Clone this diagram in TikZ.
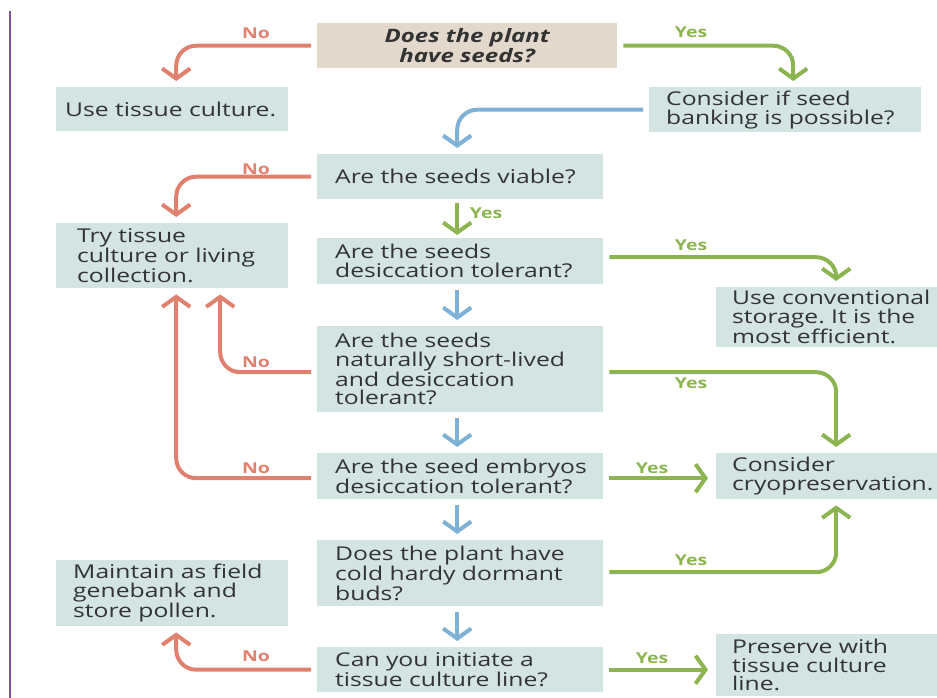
\documentclass[tikz,border=0pt]{standalone}
\usepackage{fontspec}
\setmainfont{Open Sans}[FakeStretch=1.3]
\usetikzlibrary{arrows.meta}
\definecolor{cred}{HTML}{E0806E}
\definecolor{cgreen}{HTML}{8CB551}
\definecolor{cblue}{HTML}{7DB1D6}
\definecolor{boxfill}{HTML}{D3E4E3}
\definecolor{beige}{HTML}{E2D9CC}
\definecolor{txt}{HTML}{333333}
\definecolor{cpurple}{HTML}{7A5296}
\frenchspacing
\hyphenpenalty=10000
\exhyphenpenalty=10000
\hbadness=10000
\hfuzz=200pt
\begin{document}
\begin{tikzpicture}[x=1pt,y=-1pt,
  box/.style={fill=boxfill, draw=none, inner sep=0pt, anchor=north west, align=left, text=txt, font=\fontsize{19}{18.7}\selectfont},
  conn/.style={line width=4pt, rounded corners=20pt, shorten <=6pt, shorten >=6pt, -{Straight Barb[length=10pt,width=28pt]}},
  redc/.style={conn, draw=cred},
  greenc/.style={conn, draw=cgreen},
  bluec/.style={conn, draw=cblue},
  nolab/.style={text=cred, inner sep=0pt, font=\bfseries\fontsize{15}{15}\selectfont},
  yeslab/.style={text=cgreen, inner sep=0pt, font=\bfseries\fontsize{15}{15}\selectfont}
]
\useasboundingbox (0,0) rectangle (937,698);
\clip (0,0) rectangle (937,698);
\draw[cpurple, line width=2pt] (9.5,11) -- (9.5,698);

\node[box, fill=beige, align=center, minimum width=300pt, minimum height=45pt, text width=280pt, font=\bfseries\itshape\fontsize{18.5}{18}\selectfont] (q1) at (317,23) {Does the plant\\have seeds?};
\node[box, minimum width=232pt, minimum height=44pt, text width=214pt] (use) at (56,87) {Use~tissue~culture.};
\node[box, minimum width=272pt, minimum height=45pt, text width=238pt] (bank) at (649,87) {Consider~if~seed\\banking~is~possible?};
\node[box, minimum width=286pt, minimum height=45pt, text width=250pt] (viable) at (317,154) {Are~the~seeds~viable?};
\node[box, minimum width=232pt, minimum height=65pt, text width=190pt] (try) at (56,223) {Try~tissue\\culture~or~living\\collection.};
\node[box, minimum width=286pt, minimum height=46pt, text width=250pt] (desic) at (317,238) {Are~the~seeds\\desiccation~tolerant?};
\node[box, minimum width=230pt, minimum height=60pt, text width=198pt] (conv) at (716,287) {Use~conventional\\storage.~It~is~the\\most~efficient.};
\node[box, minimum width=286pt, minimum height=86pt, text width=250pt] (short) at (317,326) {Are~the~seeds\\naturally~short-lived\\and~desiccation\\tolerant?};
\node[box, minimum width=286pt, minimum height=46pt, text width=250pt] (embryo) at (317,453) {Are~the~seed~embryos\\desiccation~tolerant?};
\node[box, minimum width=230pt, minimum height=46pt, text width=198pt] (cryo) at (716,453) {Consider\\cryopreservation.};
\node[box, minimum width=286pt, minimum height=66pt, text width=250pt] (buds) at (317,540) {Does~the~plant~have\\cold~hardy~dormant\\buds?};
\node[box, minimum width=232pt, minimum height=66pt, text width=198pt] (field) at (56,560) {Maintain~as~field\\genebank~and\\store~pollen.};
\node[box, minimum width=286pt, minimum height=45pt, text width=250pt] (tc) at (317,647) {Can~you~initiate~a\\tissue~culture~line?};
\node[box, minimum width=230pt, minimum height=62pt, text width=198pt] (pres) at (716,634) {Preserve~with\\tissue~culture\\line.};

\draw[redc] (q1.west) -| ([xshift=4pt]use.north);
\draw[greenc] (q1.east) -| ([xshift=8pt]bank.north);
\draw[bluec] (bank.west) -| ([xshift=-3pt]viable.north);
\draw[redc] (viable.west) -| ([xshift=4pt]try.north);
\draw[greenc, shorten <=4pt, shorten >=3pt] ([xshift=-3pt]viable.south) -- ([xshift=-3pt]desic.north);
\draw[greenc] ([yshift=4pt]desic.east) -| ([xshift=5pt]conv.north);
\draw[bluec] ([xshift=-3pt]desic.south) -- ([xshift=-3pt]short.north);
\draw[redc] ([yshift=-3pt]short.west) -| ([xshift=48pt]try.south);
\draw[greenc] ([yshift=-3pt]short.east) -| ([xshift=5pt]cryo.north);
\draw[bluec] ([xshift=-3pt]short.south) -- ([xshift=-3pt]embryo.north);
\draw[redc] ([yshift=-2pt]embryo.west) -| ([xshift=4pt]try.south);
\draw[greenc, shorten >=8pt] ([yshift=-2pt]embryo.east) -- ([yshift=-2pt]cryo.west);
\draw[bluec] ([xshift=-3pt]embryo.south) -- ([xshift=-3pt]buds.north);
\draw[greenc] ([yshift=1pt]buds.east) -| ([xshift=5pt]cryo.south);
\draw[bluec] ([xshift=-3pt]buds.south) -- ([xshift=-3pt]tc.north);
\draw[redc] (tc.west) -| ([xshift=4pt]field.south);
\draw[greenc, shorten >=8pt] (tc.east) -- (tc.east -| pres.west);

\node[nolab] (no1) at (256,33) {No};
\node[nolab] (no2) at (256,169) {No};
\node[nolab] (no3) at (256,362.5) {No};
\node[nolab] (no4) at (256,468.5) {No};
\node[nolab] (no5) at (256,656.5) {No};
\node[yeslab] (yes1) at (691,32.5) {Yes};
\node[yeslab] (yes2) at (486,213) {Yes};
\node[yeslab] (yes3) at (691,245.5) {Yes};
\node[yeslab] (yes4) at (691,383.5) {Yes};
\node[yeslab] (yes5) at (652,468) {Yes};
\node[yeslab] (yes6) at (691,560.5) {Yes};
\node[yeslab] (yes7) at (652,658) {Yes};
\end{tikzpicture}
\end{document}
